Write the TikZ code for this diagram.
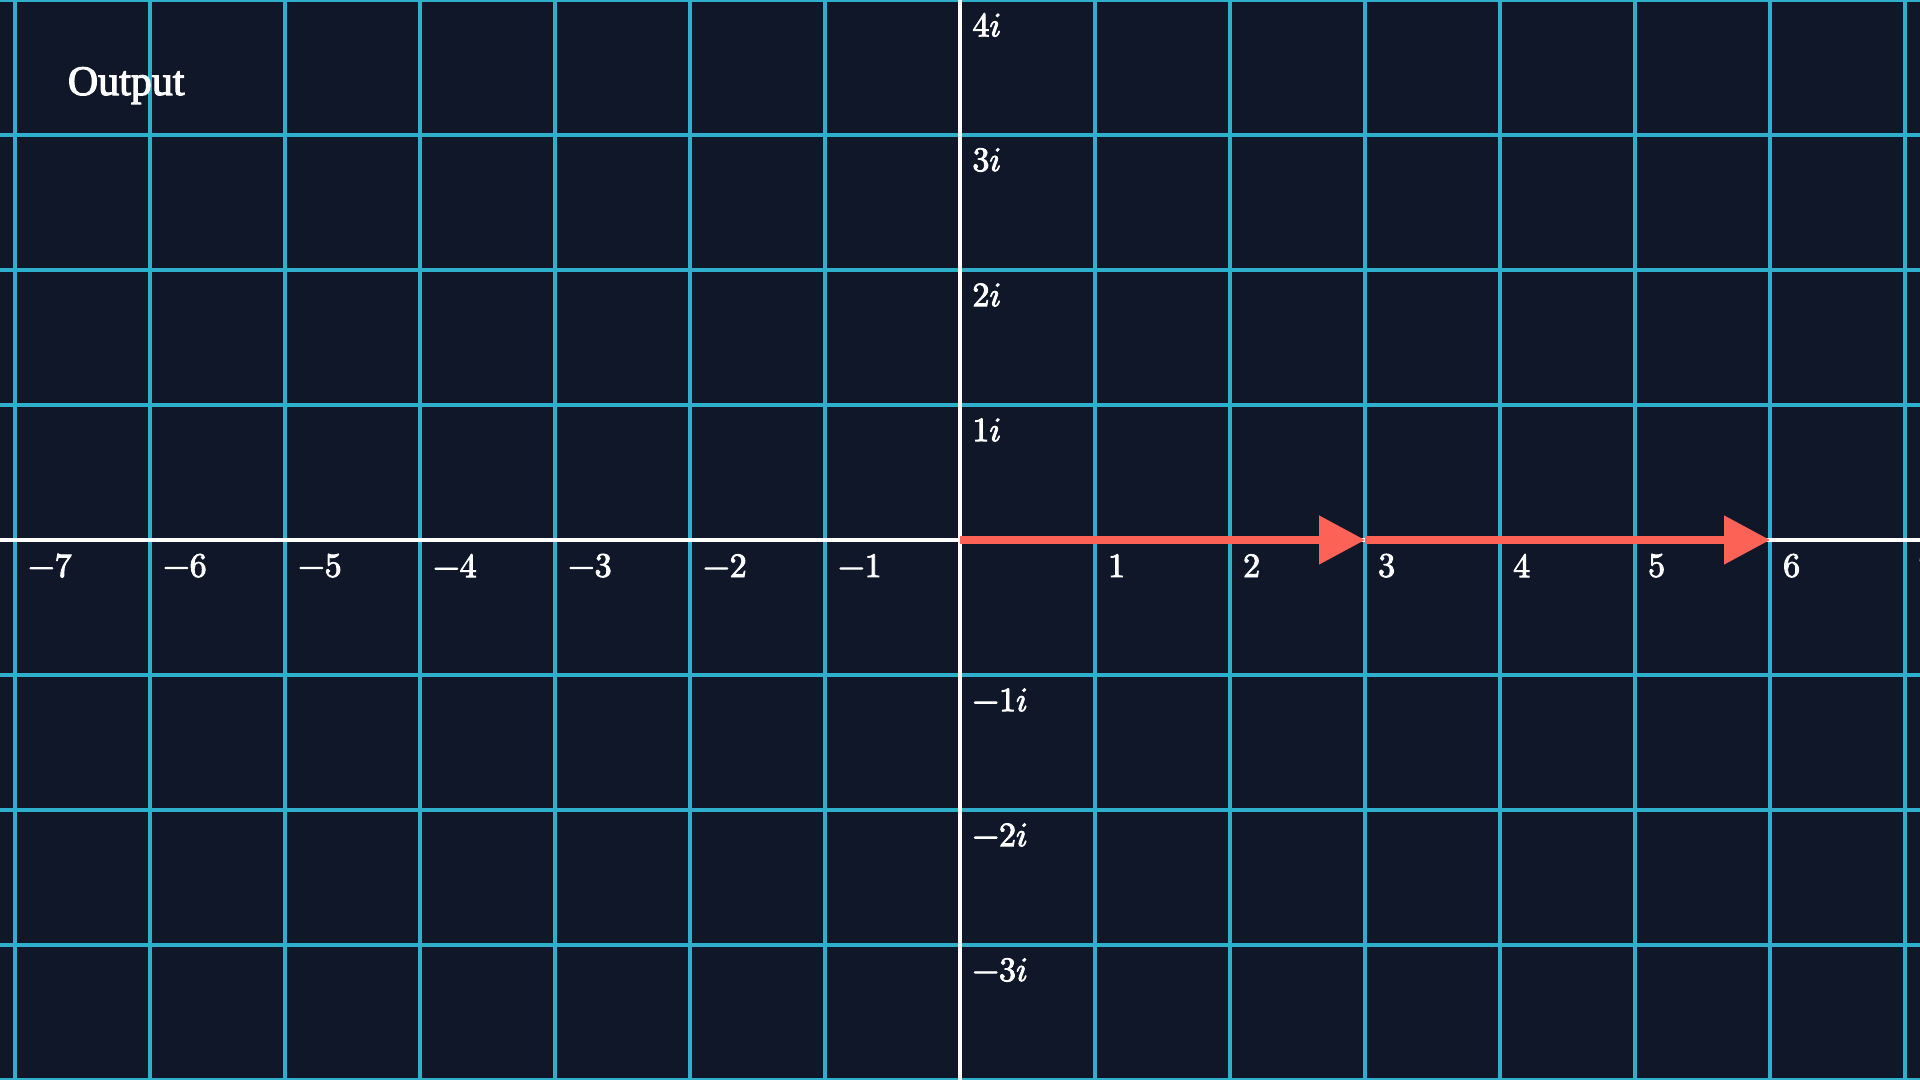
\documentclass[tikz,border=0pt]{standalone}
\usepackage{fontspec}
\newfontfamily\titlefont[FakeBold=2.6]{Liberation Serif}
\newfontfamily\lblfont[FakeBold=2.6]{latinmodern-math.otf}
\usetikzlibrary{arrows.meta}
\definecolor{bgnavy}{HTML}{0F1729}
\definecolor{gridteal}{HTML}{2EAFCC}
\definecolor{arrowred}{HTML}{FC6255}
\newcommand{\imu}{\symbol{"1D456}}
\newcommand{\mns}{\symbol{"2212}}
\tikzset{
  gridline/.style={draw=gridteal, line width=0.65pt},
  axisline/.style={draw=white, line width=0.65pt},
  vecarrow/.style={draw=arrowred, line width=1.5pt, -{Triangle[length=0.34cm,width=0.35cm]}},
  ticklabel/.style={text=white, inner sep=0pt, font=\lblfont\fontsize{7.2}{8}\selectfont, anchor=west},
  titlelabel/.style={text=white, inner sep=0pt, font=\titlefont\fontsize{8.85}{10}\selectfont, anchor=base west}
}
\begin{document}
\begin{tikzpicture}
\useasboundingbox (-7.1111,-4) rectangle (7.1111,4);
\fill[bgnavy] (-7.1111,-4) rectangle (7.1111,4);
% grid
\foreach \x in {-7,...,7} { \draw[gridline] (\x,-4) -- (\x,4); }
\foreach \y in {-4,...,4} { \draw[gridline] (-7.1111,\y) -- (7.1111,\y); }
% axes
\draw[axisline] (-7.1111,0) -- (7.1111,0);
\draw[axisline] (0,-4) -- (0,4);
% points
\coordinate (O) at (0,0);
\coordinate (A) at (3,0);
\coordinate (B) at (6,0);
% arrows
\draw[vecarrow] (O) -- (A);
\draw[vecarrow] (A) -- (B);
% x labels
\foreach \x in {1,...,7} { \node[ticklabel] (xln\x) at (-\x+0.09,-0.19) {\mns\x}; }
\foreach \x in {1,...,7} { \node[ticklabel] (xlp\x) at (\x+0.09,-0.19) {\x}; }
% y labels
\foreach \y in {1,...,4} { \node[ticklabel] (ylp\y) at (0.085,\y-0.185) {\y\imu}; }
\foreach \y in {1,2,3} { \node[ticklabel] (yln\y) at (0.085,-\y-0.185) {\mns\y\imu}; }
% title
\node[titlelabel] (title) at (-6.615,3.296) {Output};
\end{tikzpicture}
\end{document}
